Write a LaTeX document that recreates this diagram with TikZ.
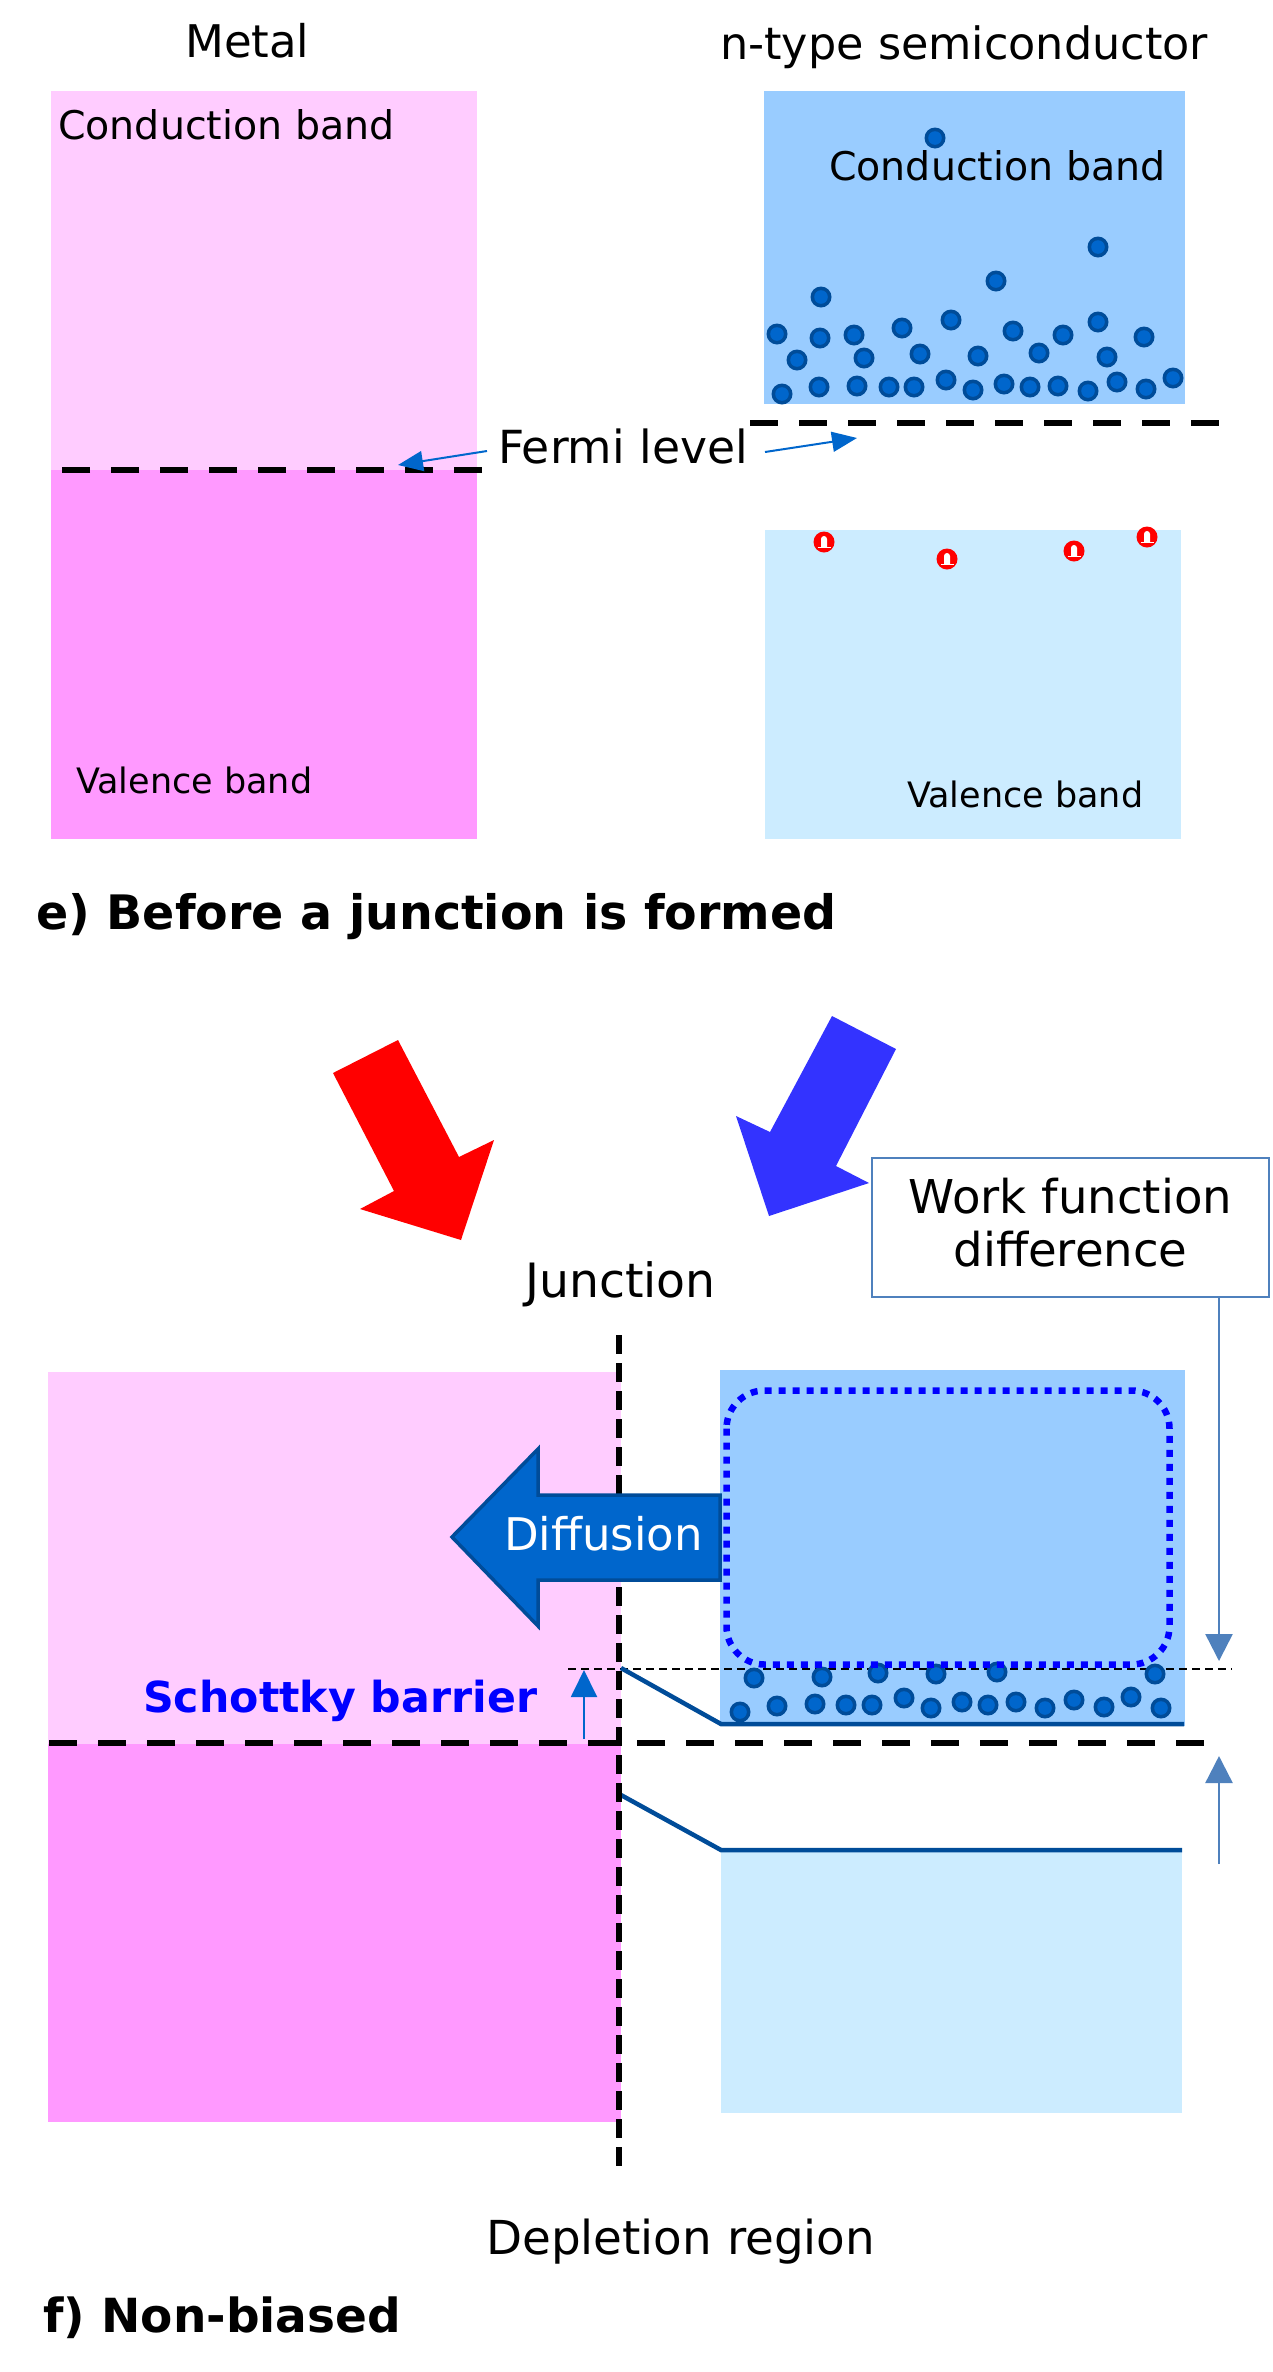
\documentclass[tikz,border=0pt]{standalone}
\usepackage{fontspec}
\setmainfont{DejaVu Sans}
\usetikzlibrary{arrows.meta}
\definecolor{mcb}{RGB}{255,204,255}
\definecolor{mvb}{RGB}{255,153,255}
\definecolor{scb}{RGB}{153,204,255}
\definecolor{svb}{RGB}{204,236,255}
\definecolor{edark}{RGB}{0,76,153}
\definecolor{elight}{RGB}{0,102,204}
\definecolor{arrowblue}{RGB}{0,102,204}
\definecolor{wfblue}{RGB}{79,129,189}
\definecolor{bigblue}{RGB}{51,51,255}
\definecolor{pureblue}{RGB}{0,0,255}
\newcommand\myelec[2]{\fill[edark] (#1,#2) circle (10.5);\fill[elight] (#1,#2) circle (6.8);}
\newcommand\myhole[2]{\fill[red] (#1,#2) circle (10.5);\fill[white] (#1-3,#2+5) -- (#1-3,#2-3) arc[start angle=180,end angle=360,radius=3] -- (#1+3,#2+5) -- cycle;\draw[white,line width=1.5pt] (#1-6.5,#2+5.5) -- (#1+6.5,#2+5.5);}
\tikzset{
  txt/.style={inner sep=0pt, anchor=base west},
  fermidash/.style={line width=6.5pt, dash pattern=on 28pt off 21pt},
  jdash/.style={line width=6pt, dash pattern=on 19pt off 9pt},
  thindash/.style={line width=2pt, dash pattern=on 8pt off 5pt},
  dotbox/.style={pureblue, line width=6.5pt, dash pattern=on 7pt off 7pt, rounded corners=38pt},
  bandln/.style={edark, line width=4.5pt},
  farrow/.style={arrowblue, line width=2pt, -{Triangle[length=25pt,width=20pt]}},
  sarrow/.style={arrowblue, line width=2pt, -{Triangle[length=27pt,width=26pt]}},
  wfarrow/.style={wfblue, line width=2.5pt, -{Triangle[length=27pt,width=27pt]}},
}
\begin{document}
\begin{tikzpicture}[x=1pt,y=-1pt]
\useasboundingbox (0,0) rectangle (1272,2372);
% ---------------- top: before junction ----------------
\fill[mcb] (51,91) rectangle (477,470);
\fill[mvb] (51,470) rectangle (477,839);
\fill[scb] (764,91) rectangle (1185,404);
\fill[svb] (765,530) rectangle (1181,839);
% electrons
\foreach \x/\y in {935/138,1098/247,996/281,821/297,951/320,1098/322,902/328,777/334,820/338,854/335,1013/331,1063/335,1144/337,797/360,864/358,920/354,978/356,1039/353,1107/357,782/394,819/387,857/386,889/387,914/387,946/380,973/390,1004/384,1030/387,1058/386,1088/391,1117/382,1146/389,1173/378}{\myelec{\x}{\y}}
% holes
\foreach \x/\y in {824/542,947/559,1074/551,1147/537}{\myhole{\x}{\y}}
\node[txt, font=\fontsize{45}{54}\selectfont] (metal) at (185,57) {Metal};
\node[txt, font=\fontsize{44.5}{53}\selectfont] (ntype) at (720,59) {n-type semiconductor};
\node[txt, font=\fontsize{39.5}{47}\selectfont] (mcbl) at (58,139) {Conduction band};
\node[txt, font=\fontsize{39.5}{47}\selectfont] (scbl) at (829,180) {Conduction band};
\node[txt, font=\fontsize{35}{42}\selectfont] (mvbl) at (76,793) {Valence band};
\node[txt, font=\fontsize{35}{42}\selectfont] (svbl) at (907,807) {Valence band};
\draw[fermidash] (482,470) -- (51,470);
\draw[fermidash] (750,423) -- (1220,423);
\node[txt, font=\fontsize{45.6}{55}\selectfont] (fermi) at (498,463) {Fermi level};
\coordinate (fa1) at (487,451);
\coordinate (fa2) at (398,465);
\coordinate (fb1) at (765,452);
\coordinate (fb2) at (857,438);
\draw[farrow] (fa1) -- (fa2);
\draw[farrow] (fb1) -- (fb2);
\node[txt, font=\bfseries\fontsize{47.5}{57}\selectfont] (titleE) at (36,929) {e) Before a junction is formed};
% ---------------- big arrows ----------------
\fill[red] (333,1073) -- (398,1040) -- (459,1157) -- (494,1140) -- (461,1240) -- (360,1209) -- (394,1191) -- cycle;
\fill[bigblue] (832,1016) -- (896,1049) -- (836,1166) -- (869,1183) -- (769,1216) -- (736,1116) -- (770,1132) -- cycle;
% ---------------- bottom: non-biased ----------------
\node[txt, font=\fontsize{47.3}{56}\selectfont] (junc) at (525,1297) {Junction};
\node[draw=wfblue, line width=2.5pt, minimum width=397pt, minimum height=139pt, inner sep=0pt] (wf) at (1070.5,1227.5) {};
\node[inner sep=0pt, align=center, font=\fontsize{46.6}{53}\selectfont] (wftext) at (1070.5,1223) {Work function\\difference};
\fill[mcb] (48,1372) rectangle (621,1744);
\fill[mvb] (48,1744) rectangle (621,2122);
\fill[scb] (720,1370) rectangle (1185,1726);
\fill[svb] (721,1850) rectangle (1182,2113);
\draw[thindash] (568,1669) -- (1232,1669);
\foreach \x/\y in {754/1678,822/1677,878/1673,936/1674,997/1672,1155/1674,740/1712,777/1706,815/1704,846/1705,872/1705,904/1698,931/1708,962/1702,988/1705,1016/1702,1045/1708,1074/1700,1104/1707,1131/1697,1161/1708}{\myelec{\x}{\y}}
\draw[dotbox] (726.5,1390.5) rectangle (1169.5,1664.5);
\draw[bandln] (621,1668) -- (721,1724) -- (1184,1724);
\draw[bandln] (621,1795) -- (721,1850) -- (1182,1850);
\draw[fermidash] (1204,1743) -- (48,1743);
\draw[jdash] (619,1335) -- (619,2167);
% diffusion arrow
\draw[edark, fill=elight, line width=3.5pt, line join=miter] (720,1495) -- (538,1495) -- (538,1449) -- (452,1537) -- (538,1626) -- (538,1580) -- (720,1580) -- cycle;
\node[txt, text=white, font=\fontsize{45}{54}\selectfont] (diff) at (504,1550) {Diffusion};
\node[txt, text=pureblue, font=\bfseries\fontsize{42.7}{51}\selectfont] (schottky) at (143,1712) {Schottky barrier};
\coordinate (sb1) at (584,1739);
\coordinate (sb2) at (584,1670);
\draw[sarrow] (sb1) -- (sb2);
\coordinate (wfend) at (1219,1661);
\draw[wfarrow] (wf.south -| wfend) -- (wfend);
\coordinate (wf2s) at (1219,1864);
\coordinate (wf2e) at (1219,1756);
\draw[wfarrow] (wf2s) -- (wf2e);
\node[txt, font=\fontsize{46.8}{56}\selectfont] (depl) at (486,2254) {Depletion region};
\node[txt, font=\bfseries\fontsize{47}{56}\selectfont] (titleF) at (43,2332) {f) Non-biased};
\end{tikzpicture}
\end{document}
